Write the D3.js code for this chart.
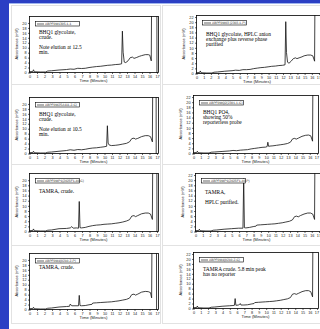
<!DOCTYPE html>
<html>
<head>
<meta charset="utf-8">
<script src="https://cdn.jsdelivr.net/npm/d3@7"></script>
<style>
  html, body { margin: 0; padding: 0; background: #fff; }
  svg { display: block; }
</style>
</head>
<body>
<svg id="chart" width="320" height="329"></svg>
<script>
// chromatogram traces, [time (min), absorbance (mV)]
const traceBhqCrude125 = [[0,0.1],[0.5,0.2],[0.6,0.9],[0.7,0.1],[1.5,0],[2.2,0],[2.5,0.4],[3,0.5],[4,0.8],[5,1],[5.5,1.2],[6,1.1],[6.5,1.5],[7,1.4],[7.5,1.5],[8,1.8],[8.5,2],[9,2.2],[9.5,2.3],[10,2.5],[10.5,2.7],[11,2.8],[11.5,3],[12,3.1],[12.35,3.3],[12.45,16.5],[12.55,8],[12.7,4],[12.9,3.8],[13.2,4.5],[13.5,5.8],[13.8,6],[14,5.5],[14.3,5.8],[14.7,6.3],[15,6.6],[15.5,7],[15.9,7],[16.1,6.8],[16.3,4.5],[16.35,30],[17.05,30],[17.06,-5]];
const traceBhqPurified = [[0,0.1],[0.5,0.2],[0.6,0.8],[0.7,0.1],[1.5,0],[2.2,0],[2.5,0.3],[3,0.4],[4,0.7],[5,0.9],[5.5,1.1],[6,1],[6.5,1.3],[7,1.3],[7.5,1.4],[8,1.7],[8.5,1.9],[9,2.1],[9.5,2.2],[10,2.4],[10.5,2.6],[11,2.7],[11.5,2.9],[12,3],[12.35,3.2],[12.45,20],[12.55,8],[12.7,4.2],[12.9,3.8],[13.2,4.6],[13.5,5.6],[13.8,5.9],[14,5.6],[14.3,5.9],[14.7,6.3],[15,6.7],[15.5,7],[15.9,7],[16.2,6.7],[16.45,4.6],[16.5,30]];
const traceBhqCrude105 = [[0,0.1],[0.5,0.2],[0.6,0.7],[0.7,0.1],[1.5,0],[2.2,0],[2.5,0.3],[3,0.4],[4,0.7],[5,1],[5.5,1.3],[6,1.1],[6.5,1.4],[7,1.3],[7.5,1.5],[8,1.8],[8.5,2],[9,2.1],[9.5,2.3],[10,2.5],[10.35,2.7],[10.45,11],[10.55,4],[10.7,3.2],[11,3],[11.5,3.1],[12,3.3],[12.5,3.6],[13,3.9],[13.4,4.5],[13.7,5.8],[14,6],[14.2,5.6],[14.5,5.9],[15,6.6],[15.5,7],[15.9,7],[16.2,6.6],[16.45,4.5],[16.5,30],[16.95,30],[16.96,-5]];
const traceBhqPo4 = [[0,0.1],[0.5,0.2],[0.6,0.7],[0.7,0.1],[1.5,0],[2.2,0],[2.5,0.3],[3,0.4],[4,0.6],[5,0.8],[5.5,1],[6,0.9],[6.5,1.1],[7,1.2],[7.5,1.3],[8,1.6],[8.5,1.8],[9,2],[9.5,2.2],[10,2.3],[10.2,2.5],[10.3,4.2],[10.4,2.6],[10.6,2.7],[11,2.8],[11.5,3],[12,3.2],[12.5,3.4],[13,3.7],[13.4,4.2],[13.7,5.5],[14,5.7],[14.2,5.4],[14.5,5.8],[15,6.5],[15.5,6.9],[15.9,7],[16.2,6.7],[16.45,4.6],[16.5,30]];
const traceTamraCrudeA = [[0,0.1],[0.5,0.2],[0.6,0.8],[0.7,0.1],[1.5,0],[2.2,0],[2.5,0.3],[3,0.4],[4,0.9],[5,1],[5.5,1.2],[5.7,1.7],[5.9,1.1],[6.3,1.2],[6.6,1.1],[6.7,11.5],[6.8,1.3],[7,1.2],[7.5,1.4],[8,1.8],[8.5,2.1],[9,2.3],[9.5,2.4],[10,2.6],[10.5,2.7],[11,2.8],[11.5,3],[12,3.2],[12.5,3.5],[13,3.9],[13.4,4.4],[13.7,5.8],[14,6],[14.2,5.6],[14.5,6],[15,6.7],[15.5,7],[15.9,7],[16.2,6.6],[16.45,4.5],[16.5,30],[17.05,30],[17.06,-5]];
const traceTamraPurified = [[0,0.1],[0.5,0.2],[0.6,0.7],[0.7,0.1],[1.5,0],[2.2,0],[2.5,0.3],[3,0.4],[4,0.7],[5,0.9],[5.5,1],[6,1.1],[6.6,1.1],[6.7,20.5],[6.8,1.3],[7,1.2],[7.5,1.4],[8,1.7],[8.4,1.9],[8.5,2.3],[9,2.4],[9.5,2.5],[10,2.6],[10.5,2.7],[11,2.8],[11.5,3],[12,3.2],[12.5,3.5],[13,3.8],[13.4,4.3],[13.7,5.6],[14,5.8],[14.2,5.5],[14.5,6],[15,6.6],[15.5,7],[15.9,7],[16.2,6.6],[16.45,4.5],[16.5,30]];
const traceTamraCrudeB = [[0,0.1],[0.5,0.2],[0.6,0.7],[0.7,0.1],[1.5,0],[2.2,0],[2.5,0.3],[3,0.4],[4,0.8],[5,1],[5.4,1.1],[5.5,2],[5.7,1.3],[6,1.3],[6.6,1.3],[6.7,5.5],[6.8,1.4],[7,1.3],[7.5,1.4],[8,1.7],[8.4,1.9],[8.5,2.4],[9,2.5],[9.5,2.6],[10,2.7],[10.5,2.8],[11,2.9],[11.5,3.1],[12,3.3],[12.5,3.6],[13,3.9],[13.4,4.4],[13.7,5.8],[14,6],[14.2,5.6],[14.5,6],[15,6.8],[15.5,7.1],[15.9,7],[16.2,6.6],[16.35,4.5],[16.4,30],[17,30],[17.01,-5]];
const traceTamraNoReporter = [[0,0.1],[0.5,0.2],[0.6,0.8],[0.7,0.1],[1.5,0],[2.2,0],[2.5,0.3],[3,0.4],[4,0.7],[5,0.9],[5.5,1],[5.7,1.1],[5.8,3.8],[5.9,1.1],[6.3,1.2],[6.5,1.8],[6.6,1.2],[7,1.2],[7.5,1.3],[8,1.6],[8.4,1.8],[8.5,2.2],[9,2.3],[9.5,2.4],[10,2.5],[10.5,2.6],[11,2.7],[11.5,2.9],[12,3.1],[12.5,3.4],[13,3.7],[13.4,4.2],[13.7,5.6],[14,5.8],[14.2,5.5],[14.5,5.9],[15,6.6],[15.5,7],[15.9,7],[16.2,6.6],[16.45,4.5],[16.5,30]];

const legendIds = ["ABPF0M1305-1-1", "ABPF0M03 (2303-1-P)", "ABPF0M2SA111-2-C)", "ABPF0MQ2(2301-1-C)",
                   "ABPF0MP1(2025F1-40-C)", "ABPF0MP1(2025F1-40-P)", "ABPF0M4(0210-2-P)", "ABPF0M4(0210-2-C)"];
const notes = [
  ["BHQ1 glycolate,", "crude.", "", "Note elution at 12.5", "min."],
  ["BHQ1 glycolate, HPLC anion", "exchange plus reverse phase", "purified"],
  ["BHQ1 glycolate,", "crude.", "", "Note elution at 10.5", "min."],
  ["BHQ1 PO4,", "showing 50%", "reporterless probe"],
  ["TAMRA, crude."],
  ["TAMRA,", "", "HPLC purified."],
  ["TAMRA, crude."],
  ["TAMRA crude. 5.8 min peak", "has no reporter"]
];
const traces = [traceBhqCrude125, traceBhqPurified, traceBhqCrude105, traceBhqPo4,
                traceTamraCrudeA, traceTamraPurified, traceTamraCrudeB, traceTamraNoReporter];
const xTicks = d3.range(0, 18);
const yTicksLeft = d3.range(0, 21, 2);
const yTicksRight = d3.range(0, 23, 2);

// plot boxes (left, right, top, bottom)
const boxes = [
  {x0: 29, x1: 158, y0: 16, y1: 72, right: false, textY: 34},
  {x0: 196, x1: 320, y0: 15, y1: 73, right: true, textY: 36},
  {x0: 29, x1: 158, y0: 97, y1: 153, right: false, textY: 116},
  {x0: 193, x1: 318, y0: 95, y1: 153, right: true, textY: 114},
  {x0: 29, x1: 158, y0: 173, y1: 231, right: false, textY: 193},
  {x0: 195, x1: 320, y0: 173, y1: 231, right: true, textY: 194},
  {x0: 29, x1: 158, y0: 253, y1: 309, right: false, textY: 269},
  {x0: 193, x1: 318, y0: 252, y1: 308, right: true, textY: 271}
];

const svg = d3.select("#chart");

// page backdrop
svg.append("rect").attr("width", 320).attr("height", 329).attr("fill", "#2b3fc4");
svg.append("rect").attr("x", 9).attr("y", 3).attr("width", 311).attr("height", 326).attr("fill", "#fff");
svg.append("line").attr("x1", 9).attr("x2", 320).attr("y1", 3.5).attr("y2", 3.5)
    .attr("stroke", "#9fb4ee").attr("stroke-width", 1);

const cells = [[11, 5, 149, 79], [162, 5, 158, 79], [11, 84, 149, 80], [162, 84, 158, 80],
               [11, 164, 149, 81], [162, 164, 158, 81], [11, 245, 149, 78], [162, 245, 158, 78]];
svg.selectAll("rect.cell").data(cells).enter().append("rect")
    .attr("class", "cell")
    .attr("x", d => d[0] + 0.5).attr("y", d => d[1] + 0.5)
    .attr("width", d => d[2]).attr("height", d => d[3])
    .attr("fill", "#fff").attr("stroke", "#e2e2e2").attr("stroke-width", 1);

boxes.forEach((b, i) => {
  const g = svg.append("g");
  const x = d3.scaleLinear().domain([0, 17.2]).range([b.x0, b.x1]);
  const y = d3.scaleLinear().domain([0, 22.6]).range([b.y1, b.y0]);
  const clipId = "clip" + i;
  g.append("clipPath").attr("id", clipId).append("rect")
      .attr("x", b.x0).attr("y", b.y0).attr("width", b.x1 - b.x0).attr("height", b.y1 - b.y0 + 1);

  // frame
  g.append("rect").attr("x", b.x0 + 0.5).attr("y", b.y0 + 0.5)
      .attr("width", b.x1 - b.x0).attr("height", b.y1 - b.y0)
      .attr("fill", "none").attr("stroke", "#000").attr("stroke-width", 0.8);

  const xAxis = g.append("g").attr("transform", `translate(0.5,${b.y1 + 0.5})`)
      .call(d3.axisBottom(x).tickValues(xTicks).tickSize(1.5).tickPadding(1).tickSizeOuter(0));
  const yAxis = g.append("g").attr("transform", `translate(${b.x0 + 0.5},0.5)`)
      .call(d3.axisLeft(y).tickValues(b.right ? yTicksRight : yTicksLeft).tickSize(1.5).tickPadding(1.5).tickSizeOuter(0));
  [xAxis, yAxis].forEach(a => {
    a.select(".domain").remove();
    a.selectAll("line").attr("stroke-width", 0.6);
    a.selectAll("text").attr("font-family", "Liberation Sans").attr("font-size", 3.8).attr("fill", "#222");
  });
  // keep the last tick label inside the window
  xAxis.selectAll(".tick text").filter(d => x(d) > 314).attr("text-anchor", "end").attr("dx", 1.5);

  g.append("text").attr("x", (b.x0 + Math.min(b.x1, 318)) / 2).attr("y", b.y1 + 10)
      .attr("text-anchor", "middle").attr("font-family", "Liberation Sans").attr("font-size", 4.2)
      .attr("fill", "#222").text("Time (Minutes)");
  g.append("text")
      .attr("transform", `translate(${b.x0 - 11},${(b.y0 + b.y1) / 2}) rotate(-90)`)
      .attr("text-anchor", "middle").attr("font-family", "Liberation Sans").attr("font-size", 4)
      .attr("fill", "#222").text("Absorbance (mV)");

  // trace
  g.append("path").datum(traces[i])
      .attr("clip-path", `url(#${clipId})`)
      .attr("d", d3.line().x(d => x(d[0])).y(d => y(d[1])))
      .attr("fill", "none").attr("stroke", "#111").attr("stroke-width", 0.8);

  // legend box
  const lx = b.x0 + 6, ly = b.y0 + 5;
  g.append("rect").attr("x", lx + 0.5).attr("y", ly + 0.5).attr("width", 44).attr("height", 4.5)
      .attr("fill", "#fff").attr("stroke", "#000").attr("stroke-width", 0.6);
  g.append("line").attr("x1", lx + 2).attr("x2", lx + 9).attr("y1", ly + 3).attr("y2", ly + 3)
      .attr("stroke", "#000").attr("stroke-width", 0.6);
  g.append("text").attr("x", lx + 10).attr("y", ly + 4.2)
      .attr("font-family", "Liberation Sans").attr("font-size", 3.3).attr("fill", "#333")
      .style("text-rendering", "geometricPrecision").text(legendIds[i]);

  // annotation
  g.append("g").selectAll("text").data(notes[i]).enter().append("text")
      .attr("x", b.x0 + 10).attr("y", (d, k) => b.textY + k * 5)
      .attr("font-family", "Liberation Serif").attr("font-size", 5.4).attr("fill", "#000")
      .text(d => d);
});
</script>
</body>
</html>
